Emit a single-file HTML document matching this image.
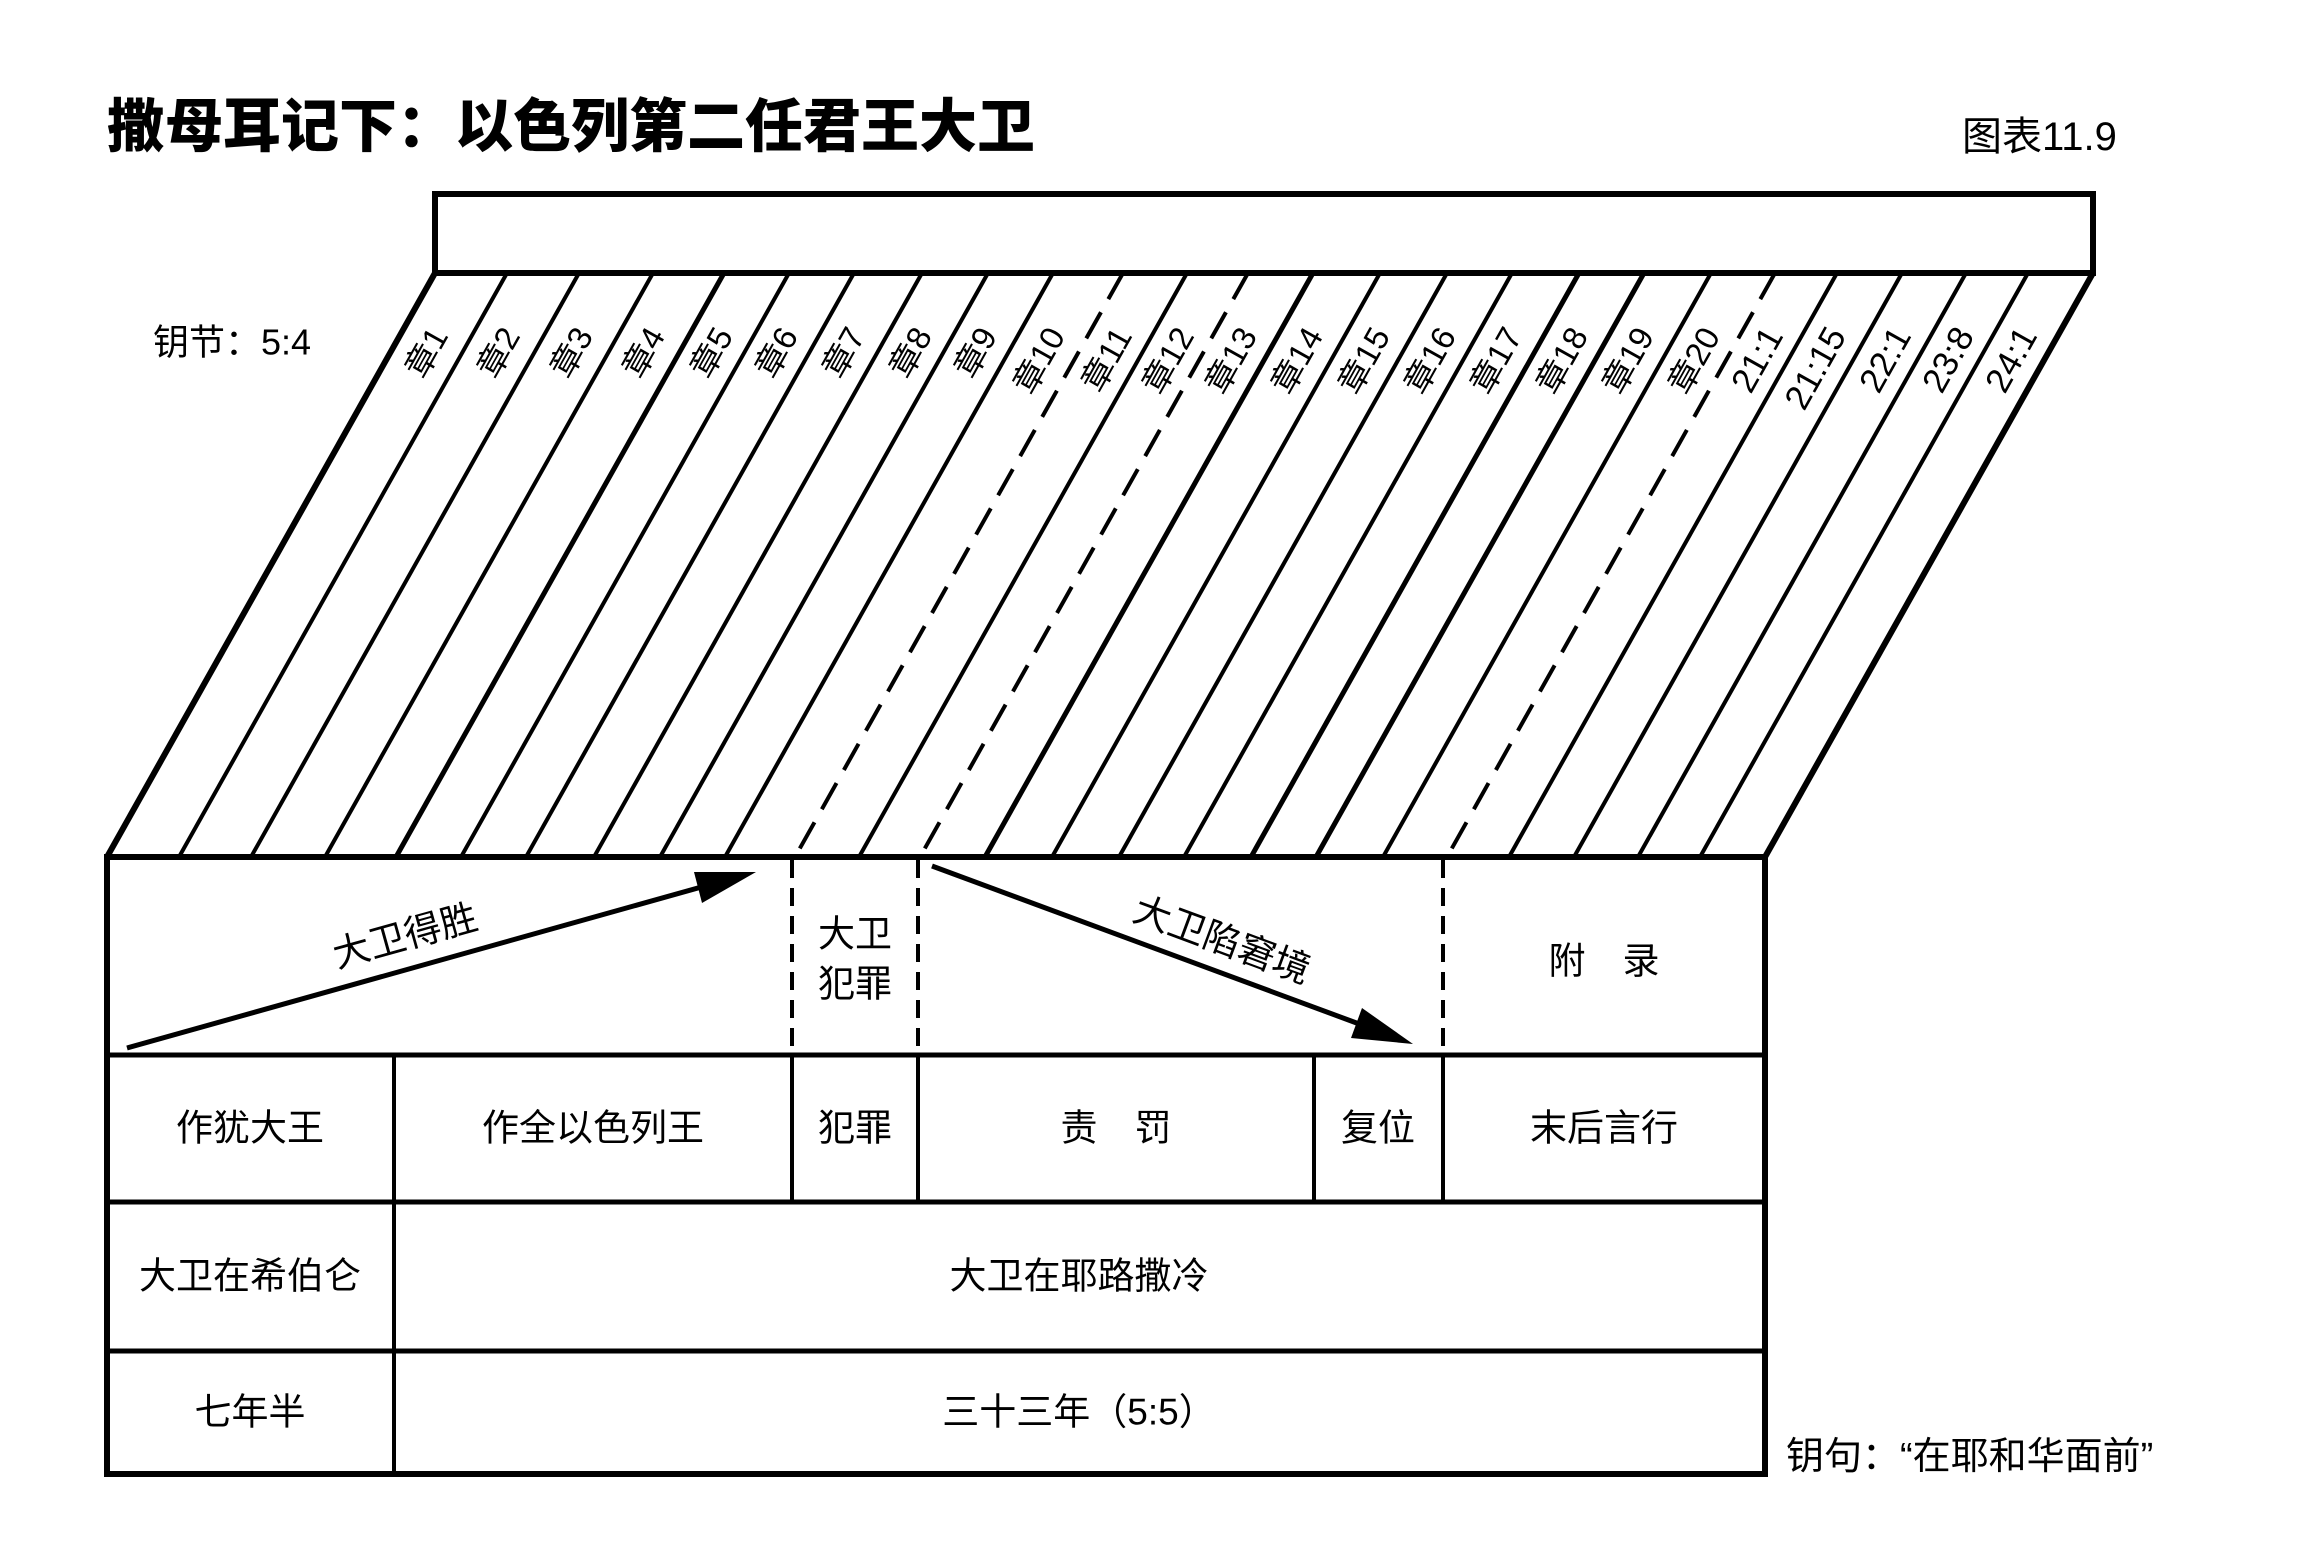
<!DOCTYPE html>
<html><head><meta charset="utf-8">
<style>
html,body{margin:0;padding:0;background:#fff;}
svg{display:block;}
text{font-family:"Liberation Sans","Noto Sans CJK SC",sans-serif;fill:#000;}
.cj{font-family:"Liberation Sans","Noto Sans CJK SC",sans-serif;}
</style></head>
<body>
<svg width="2312" height="1551" viewBox="0 0 2312 1551" xmlns="http://www.w3.org/2000/svg">
<rect width="2312" height="1551" fill="#fff"/>
<text x="107" y="127" font-size="58" font-weight="900" dominant-baseline="central" class="cj">撒母耳记下：以色列第二任君王大卫</text>
<text x="1962" y="137" font-size="40" dominant-baseline="central" class="cj">图表11.9</text>
<text x="153" y="342" font-size="36" dominant-baseline="central" class="cj">钥节：5:4</text>
<text x="1786" y="1457" font-size="38" dominant-baseline="central" class="cj">钥句：“在耶和华面前”</text>

<rect x="435" y="194" width="1658" height="79" fill="none" stroke="#000" stroke-width="6"/>

<g stroke="#000" stroke-width="4" fill="none">
<line x1="435" y1="273" x2="107" y2="857" stroke-width="6"/>
<line x1="507" y1="273" x2="179" y2="857"/>
<line x1="579" y1="273" x2="251" y2="857"/>
<line x1="653" y1="273" x2="325" y2="857"/>
<line x1="724" y1="273" x2="396" y2="857" stroke-width="5"/>
<line x1="789" y1="273" x2="461" y2="857"/>
<line x1="854" y1="273" x2="526" y2="857"/>
<line x1="922" y1="273" x2="594" y2="857"/>
<line x1="988" y1="273" x2="660" y2="857"/>
<line x1="1053" y1="273" x2="725" y2="857"/>
<line x1="1123" y1="273" x2="795" y2="857" stroke-dasharray="30 15"/>
<line x1="1187" y1="273" x2="859" y2="857"/>
<line x1="1248" y1="273" x2="920" y2="857" stroke-dasharray="30 15"/>
<line x1="1313" y1="273" x2="985" y2="857" stroke-width="5"/>
<line x1="1380" y1="273" x2="1052" y2="857"/>
<line x1="1447" y1="273" x2="1119" y2="857"/>
<line x1="1512" y1="273" x2="1184" y2="857"/>
<line x1="1579" y1="273" x2="1251" y2="857" stroke-width="5"/>
<line x1="1644" y1="273" x2="1316" y2="857" stroke-width="5"/>
<line x1="1711" y1="273" x2="1383" y2="857"/>
<line x1="1775" y1="273" x2="1447" y2="857" stroke-dasharray="30 15"/>
<line x1="1837" y1="273" x2="1509" y2="857"/>
<line x1="1902" y1="273" x2="1574" y2="857"/>
<line x1="1966" y1="273" x2="1638" y2="857"/>
<line x1="2028" y1="273" x2="1700" y2="857"/>
<line x1="2093" y1="273" x2="1765" y2="857" stroke-width="6"/>
</g>

<g font-size="33" text-anchor="end" dominant-baseline="central">
<text transform="translate(439,330) rotate(-60.7)">章1</text>
<text transform="translate(511,330) rotate(-60.7)">章2</text>
<text transform="translate(584,330) rotate(-60.7)">章3</text>
<text transform="translate(656,330) rotate(-60.7)">章4</text>
<text transform="translate(724,330) rotate(-60.7)">章5</text>
<text transform="translate(789,330) rotate(-60.7)">章6</text>
<text transform="translate(856,330) rotate(-60.7)">章7</text>
<text transform="translate(923,330) rotate(-60.7)">章8</text>
<text transform="translate(988,330) rotate(-60.7)">章9</text>
<text transform="translate(1056,330) rotate(-60.7)">章10</text>
<text transform="translate(1123,330) rotate(-60.7)">章11</text>
<text transform="translate(1185,330) rotate(-60.7)">章12</text>
<text transform="translate(1248,330) rotate(-60.7)">章13</text>
<text transform="translate(1314,330) rotate(-60.7)">章14</text>
<text transform="translate(1381,330) rotate(-60.7)">章15</text>
<text transform="translate(1447,330) rotate(-60.7)">章16</text>
<text transform="translate(1513,330) rotate(-60.7)">章17</text>
<text transform="translate(1579,330) rotate(-60.7)">章18</text>
<text transform="translate(1645,330) rotate(-60.7)">章19</text>
<text transform="translate(1711,330) rotate(-60.7)">章20</text>
</g>
<g font-size="35" text-anchor="end" dominant-baseline="central">
<text transform="translate(1774,330) rotate(-60.7)">21:1</text>
<text transform="translate(1837,330) rotate(-60.7)">21:15</text>
<text transform="translate(1902,330) rotate(-60.7)">22:1</text>
<text transform="translate(1965,330) rotate(-60.7)">23:8</text>
<text transform="translate(2028,330) rotate(-60.7)">24:1</text>
</g>

<g stroke="#000" fill="none">
<rect x="107" y="857" width="1658" height="617" stroke-width="6"/>
<line x1="107" y1="1055" x2="1765" y2="1055" stroke-width="5"/>
<line x1="107" y1="1202" x2="1765" y2="1202" stroke-width="5"/>
<line x1="107" y1="1351" x2="1765" y2="1351" stroke-width="5"/>
<line x1="394" y1="1055" x2="394" y2="1474" stroke-width="4"/>
<line x1="792" y1="1055" x2="792" y2="1202" stroke-width="4"/>
<line x1="918" y1="1055" x2="918" y2="1202" stroke-width="4"/>
<line x1="1314" y1="1055" x2="1314" y2="1202" stroke-width="4"/>
<line x1="1443" y1="1055" x2="1443" y2="1202" stroke-width="4"/>
<g stroke-width="4" stroke-dasharray="18 10">
<line x1="792" y1="860" x2="792" y2="1052"/>
<line x1="918" y1="860" x2="918" y2="1052"/>
<line x1="1443" y1="860" x2="1443" y2="1052"/>
</g>
</g>

<line x1="127" y1="1048" x2="705" y2="886" stroke="#000" stroke-width="5"/>
<polygon points="756,872 694,872 702,903" fill="#000"/>
<line x1="932" y1="866" x2="1362" y2="1025" stroke="#000" stroke-width="5"/>
<polygon points="1413,1044 1351,1038 1362,1008" fill="#000"/>

<g font-size="37" text-anchor="middle" dominant-baseline="central" class="cj">
<text transform="translate(405,936) rotate(-15.6)">大卫得胜</text>
<text transform="translate(1222,940) rotate(20.3)">大卫陷窘境</text>
<text x="855" y="934">大卫</text>
<text x="855" y="984">犯罪</text>
<text x="1604" y="961">附　录</text>
<text x="250" y="1128">作犹大王</text>
<text x="593" y="1128">作全以色列王</text>
<text x="855" y="1128">犯罪</text>
<text x="1116" y="1128">责　罚</text>
<text x="1378" y="1128">复位</text>
<text x="1604" y="1128">末后言行</text>
<text x="250" y="1276">大卫在希伯仑</text>
<text x="1079" y="1276">大卫在耶路撒冷</text>
<text x="250" y="1412">七年半</text>
<text x="1079" y="1412">三十三年（5:5）</text>
</g>
</svg>
</body></html>
